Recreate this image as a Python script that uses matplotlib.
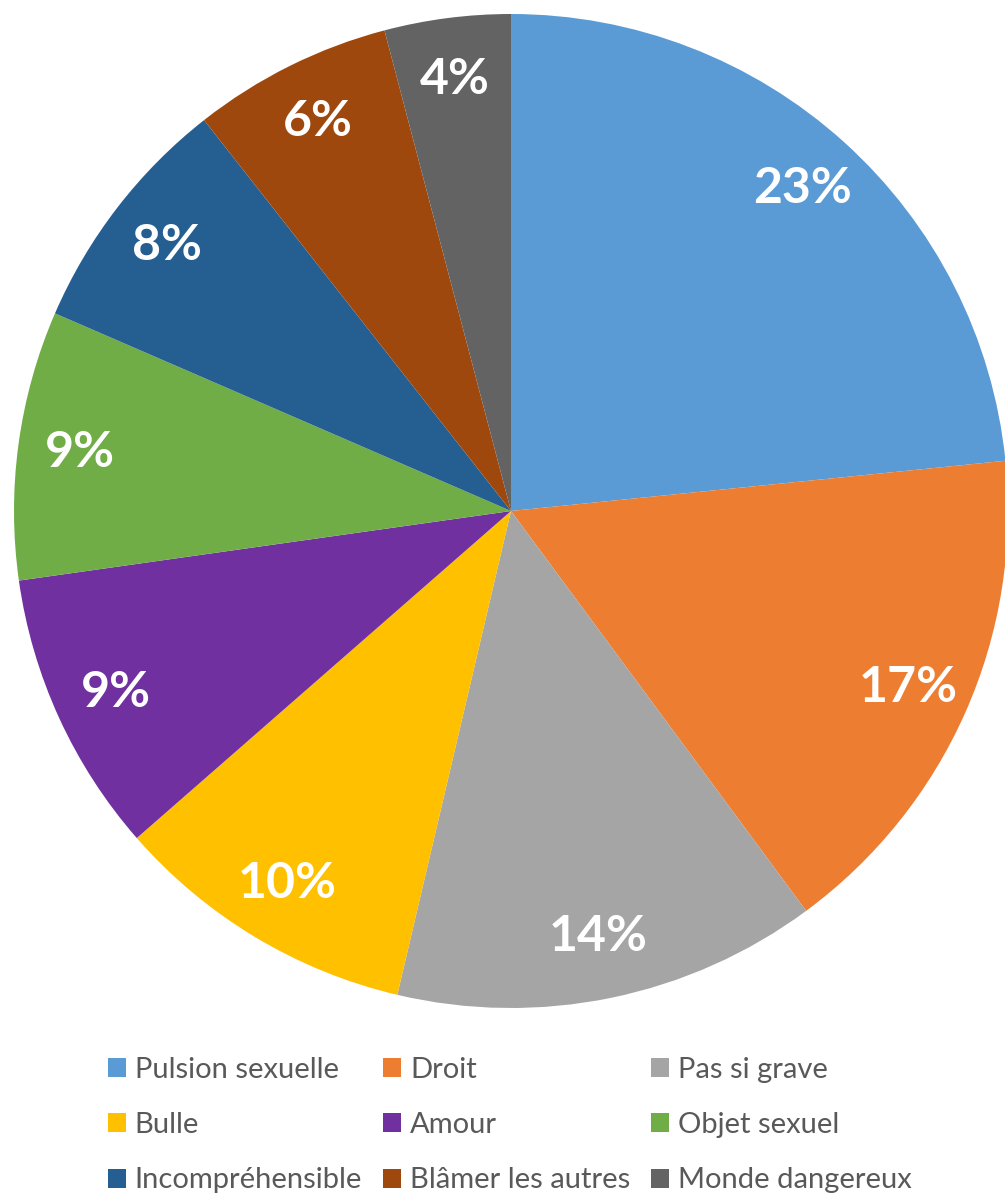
import numpy as np
import matplotlib.pyplot as plt

# share of each category
categories = ["Pulsion sexuelle", "Droit", "Pas si grave", "Bulle", "Amour",
              "Objet sexuel", "Incompréhensible", "Blâmer les autres", "Monde dangereux"]
values = [23.4, 16.5, 13.8, 9.9, 9.2, 8.75, 7.9, 6.5, 4.1]
pct_labels = ["23%", "17%", "14%", "10%", "9%", "9%", "8%", "6%", "4%"]
colors = ["#5B9BD5", "#ED7D31", "#A5A5A5", "#FFC000", "#7030A0",
          "#70AD47", "#255E91", "#9E480E", "#636363"]

plt.rcParams['font.family'] = ['Lato', 'DejaVu Sans']

fig = plt.figure(figsize=(10.05, 11.93), dpi=100)
ax = fig.add_axes([14/1005, (682-497)/1193, 994/1005, 994/1193])

wedges, texts = ax.pie(values, labels=pct_labels, colors=colors, startangle=90,
                       counterclock=False, labeldistance=0.875, radius=1.0)
for t in texts:
    t.set_ha('center')
    t.set_va('center')
    t.set_color('white')
    t.set_fontsize(36)
    t.set_fontweight('bold')
ax.set_xlim(-1, 1)
ax.set_ylim(-1, 1)
ax.set_aspect('equal')
ax.axis('off')

# legend fills row by row in the original
order = [0, 3, 6, 1, 4, 7, 2, 5, 8]
leg = fig.legend([wedges[i] for i in order], [categories[i] for i in order],
                 ncol=3, loc='upper left', bbox_to_anchor=(108/1005, 1 - 1057/1193),
                 frameon=False, fontsize=21, handlelength=0.62, handleheight=0.62,
                 handletextpad=0.3, columnspacing=0.72, labelspacing=1.0,
                 borderpad=0, borderaxespad=0)
for t in leg.get_texts():
    t.set_color('#595959')

fig.savefig('out.png', dpi=100)
